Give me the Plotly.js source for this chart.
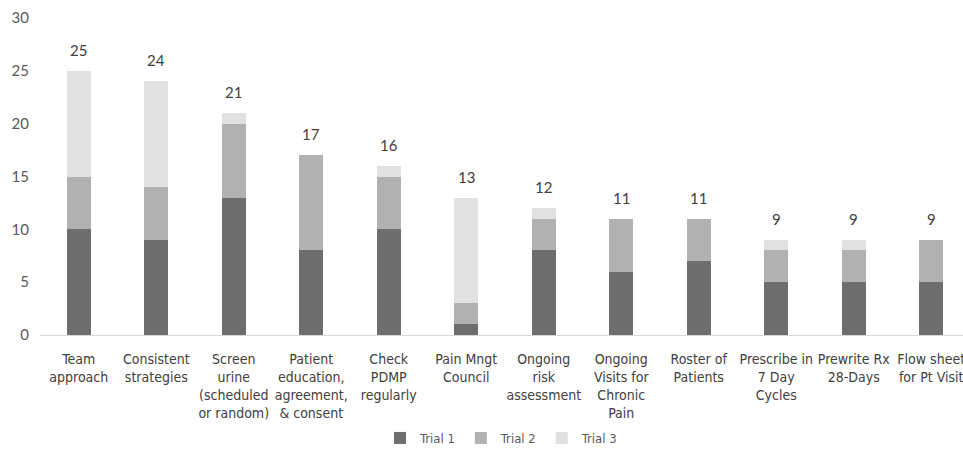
<!DOCTYPE html>
<html>
<head>
<meta charset="utf-8">
<script src="https://cdn.plot.ly/plotly-3.0.1.min.js"></script>
<style>html,body{margin:0;padding:0;background:#fff;}#chart{width:963px;height:453px;}</style>
</head>
<body>
<div id="chart"></div>
<script>
const categories = [
  "Team<br>approach",
  "Consistent<br>strategies",
  "Screen<br>urine<br>(scheduled<br>or random)",
  "Patient<br>education,<br>agreement,<br>& consent",
  "Check<br>PDMP<br>regularly",
  "Pain Mngt<br>Council",
  "Ongoing<br>risk<br>assessment",
  "Ongoing<br>Visits for<br>Chronic<br>Pain",
  "Roster of<br>Patients",
  "Prescribe in<br>7 Day<br>Cycles",
  "Prewrite Rx<br>28-Days",
  "Flow sheet<br>for Pt Visit"
];
const trial1 = [10, 9, 13, 8, 10, 1, 8, 6, 7, 5, 5, 5];
const trial2 = [5, 5, 7, 9, 5, 2, 3, 5, 4, 3, 3, 4];
const trial3 = [10, 10, 1, 0, 1, 10, 1, 0, 0, 1, 1, 0];
const totals = [25, 24, 21, 17, 16, 13, 12, 11, 11, 9, 9, 9];
const yTicks = [0, 5, 10, 15, 20, 25, 30];

const font = "'Liberation Sans Narrow', 'DejaVu Sans Condensed', Lato, sans-serif";
const mk = (name, y, color) => ({
  type: 'bar', name: name, x: categories, y: y,
  marker: {color: color}, hoverinfo: 'none'
});
const data = [
  mk('Trial 1', trial1, '#6e6e6e'),
  mk('Trial 2', trial2, '#b1b1b1'),
  mk('Trial 3', trial3, '#e1e1e1')
];
const annotations = categories.map((c, i) => ({
  x: c, y: totals[i], xref: 'x', yref: 'y',
  text: String(totals[i]), showarrow: false,
  yanchor: 'bottom', yshift: 10,
  font: {family: 'Lato, sans-serif', size: 15, color: '#404040'}
}));
const layout = {
  width: 963, height: 453,
  margin: {l: 40, r: 0, t: 18, b: 118},
  paper_bgcolor: '#fff', plot_bgcolor: '#fff',
  barmode: 'stack', bargap: 0.69,
  showlegend: true,
  legend: {orientation: 'h', x: 0.5, xanchor: 'center', y: -0.325, yanchor: 'middle',
    font: {family: font, size: 13, color: '#595959'}, traceorder: 'normal',
    itemwidth: 30},
  xaxis: {
    type: 'category', range: [-0.5, 11.41], automargin: false,
    showgrid: false, zeroline: false, showline: true, linecolor: '#d9d9d9', linewidth: 1,
    ticks: '', tickangle: 0, ticklabelstandoff: 11,
    tickfont: {family: font, size: 14, color: '#404040'}
  },
  yaxis: {
    range: [0, 30], tickvals: yTicks, showgrid: false, zeroline: false, showline: false,
    automargin: false, ticks: '', ticklabelstandoff: 10,
    tickfont: {family: 'Lato, sans-serif', size: 15, color: '#595959'}
  },
  annotations: annotations
};
Plotly.newPlot('chart', data, layout, {staticPlot: true, displayModeBar: false});
</script>
</body>
</html>
